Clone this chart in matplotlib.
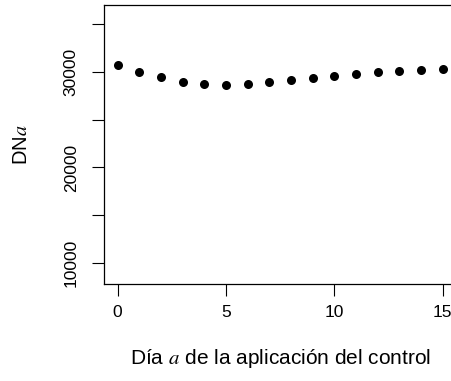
import matplotlib
matplotlib.use("Agg")
import matplotlib.pyplot as plt

plt.rcParams['font.family'] = ['Liberation Sans', 'DejaVu Sans']
plt.rcParams['mathtext.fontset'] = 'stix'

# dia de la aplicacion del control
dias = list(range(16))
# DN_a
dn = [30700, 30000, 29420, 28960, 28750, 28650, 28750, 28930,
      29100, 29310, 29520, 29730, 29940, 30070, 30210, 30310]

xticks = [0, 5, 10, 15]
yticks = [10000, 15000, 20000, 25000, 30000, 35000]
ylabels = ["10000", "", "20000", "", "30000", ""]

fig = plt.figure(figsize=(4.52, 3.81), dpi=100)
ax = fig.add_axes([104.5/452, 1-284.3/381, (455.7-104.5)/452, (284.3-4.7)/381])

ax.plot(dias, dn, 'o', color='black', markersize=6.5, markeredgewidth=0)

ax.set_xlim(-0.6, 15.6)
ax.set_ylim(7813, 36979)
ax.set_xticks(xticks)
ax.set_yticks(yticks)
ax.set_yticklabels(ylabels, rotation=90, va='center')

ax.tick_params(axis='both', direction='out', length=8.6, width=0.8, labelsize=12.5, color='black')
ax.tick_params(axis='x', pad=6)
ax.tick_params(axis='y', pad=10)
for s in ax.spines.values():
    s.set_linewidth(0.9)

ax.set_xlabel("Día $a$ de la aplicación del control", fontsize=15, va='center')
ax.xaxis.set_label_coords(0.5, -0.2636)
ax.set_ylabel("DN$a$", fontsize=14.5, va='center')
ax.yaxis.set_label_coords(-0.235, 0.5)

fig.savefig("out.png", dpi=100)
